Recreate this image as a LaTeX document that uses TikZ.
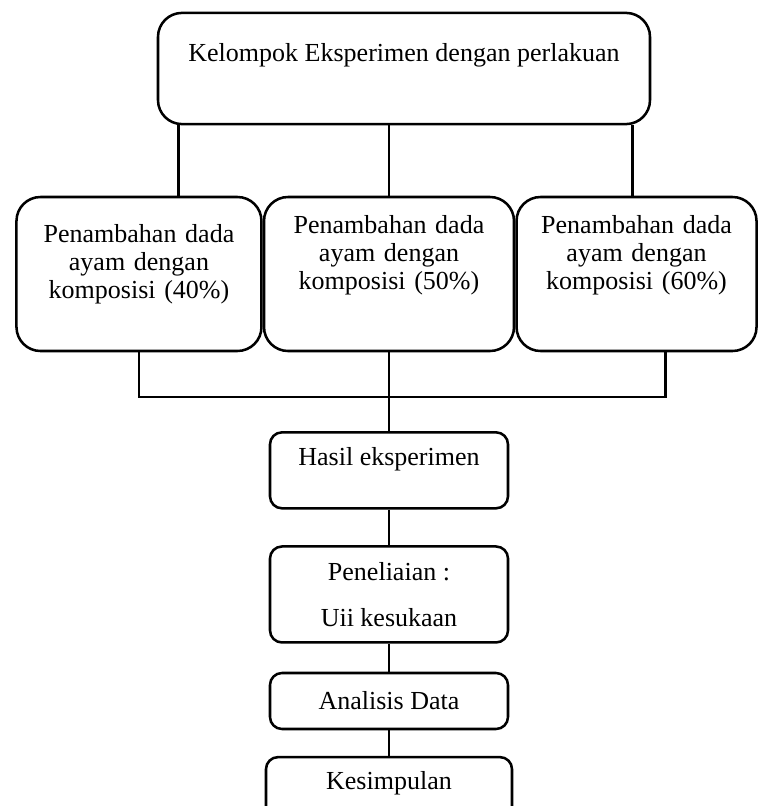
\documentclass[tikz,border=0pt]{standalone}
\usepackage{fontspec}
\setmainfont{Liberation Serif}
\usetikzlibrary{positioning}

\begin{document}
\begin{tikzpicture}[
    node distance=0.8cm,
    font=\fontsize{18.5}{20}\selectfont,
    box/.style={rectangle, draw=black, line width=1.8pt, rounded corners=0.6cm,
                align=center},
    groupbox/.style={box, text width=5.6cm, minimum height=3.85cm,
                text height=0.5cm, text depth=2.55cm},
    smallbox/.style={box, rounded corners=0.3cm, minimum width=5.95cm},
    line/.style={draw=black, line width=2pt}
]
\useasboundingbox (0,0) rectangle (19,-20.15);

\node[box, minimum width=12.3cm, minimum height=2.78cm,
      text height=0.45cm, text depth=0.775cm] (group) at (10.1,-1.7125)
      {Kelompok Eksperimen dengan perlakuan};

\node[groupbox, minimum width=6.25cm] (mid) at (9.725,-6.85)
      {Penambahan dada\\ ayam dengan\\ komposisi (50\%)};
\node[groupbox, minimum width=6.125cm, text depth=2.1cm, left=0pt of mid] (left)
      {Penambahan dada\\ ayam dengan\\ komposisi (40\%)};
\node[groupbox, minimum width=6cm, right=0pt of mid] (right)
      {Penambahan dada\\ ayam dengan\\ komposisi (60\%)};

\node[smallbox, minimum height=1.9cm, text height=0.45cm, text depth=0.7cm,
      below=1.97cm of mid] (result) {Hasil eksperimen};
\node[smallbox, minimum height=2.4cm, below=0.89cm of result] (rating)
      {Peneliaian :\\[12.5pt] Uii kesukaan};
\node[smallbox, minimum height=1.4cm, below=0.7cm of rating] (analysis)
      {Analisis Data};
\node[smallbox, minimum width=6.15cm, minimum height=2cm, text height=0.45cm,
      text depth=0.85cm, below=0.64cm of analysis] (concl) {Kesimpulan};

% top box to the three groups
\draw[line] ([xshift=0.55cm]group.south west) -- ([xshift=0.55cm]group.south west |- left.north);
\draw[line] (mid.north |- group.south) -- (mid.north);
\draw[line] ([xshift=-0.475cm]group.south east) -- ([xshift=-0.475cm]group.south east |- right.north);

% groups joined into results
\coordinate (join) at ([yshift=0.85cm]result.north);
\draw[line] (left.south) |- ([xshift=0.725cm]right.south |- join) -- ([xshift=0.725cm]right.south);
\draw[line] (mid.south) -- (result.north);

\draw[line] (result) -- (rating);
\draw[line] (rating) -- (analysis);
\draw[line] (analysis) -- (concl);

\end{tikzpicture}
\end{document}
